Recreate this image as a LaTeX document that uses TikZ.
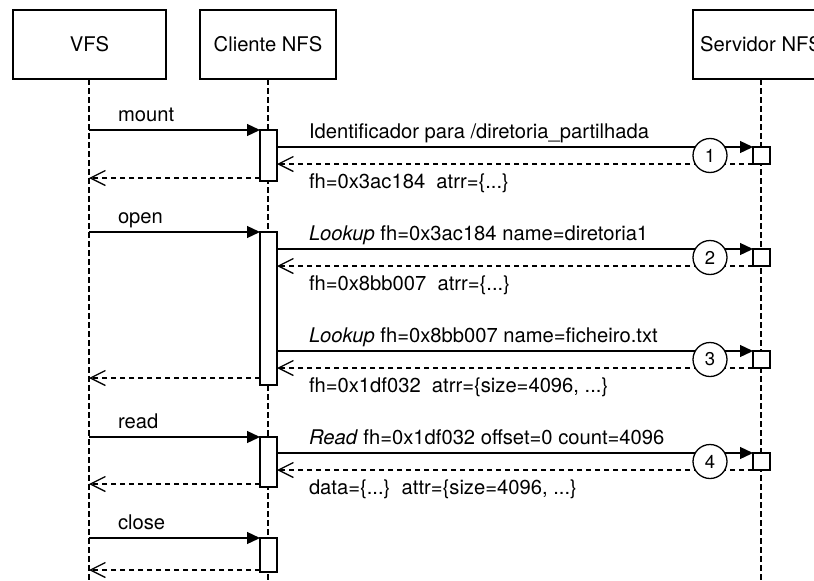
\documentclass[tikz,border=0pt]{standalone}
\usepackage{fontspec}
\setmainfont{TeX Gyre Heros}
\usetikzlibrary{arrows.meta,calc}
\begin{document}
\begin{tikzpicture}[x=1pt,y=-1pt,
  font=\fontsize{20.2}{24}\selectfont,
  every node/.style={inner sep=0pt, outer sep=0pt},
  head/.style={draw, line width=1.3pt, fill=white, minimum height=69pt, anchor=north west},
  life/.style={line width=1.3pt, dash pattern=on 5.5pt off 3.5pt},
  act/.style={draw, line width=1.3pt, fill=white, minimum width=17pt, anchor=north},
  srv/.style={draw, line width=1.3pt, fill=white, minimum width=17pt, minimum height=17pt, anchor=north west},
  call/.style={line width=1.3pt, -{Triangle[length=13pt,width=12pt]}},
  reply/.style={line width=1.3pt, dash pattern=on 5.5pt off 3.5pt,
    -{Straight Barb[length=15pt,width=15pt,line width=1.3pt]}},
  num/.style={circle, draw, line width=1.3pt, fill=white, minimum size=34pt,
    font=\fontsize{18.5}{20}\selectfont},
  lbl/.style={anchor=base west}
]
\useasboundingbox (0,0) rectangle (814,581);
\clip (0,0) rectangle (814,581);
\coordinate (bottom) at (0,581);

% participants
\node[head, minimum width=153pt] (vfs) at (13,10) {VFS};
\node[head, minimum width=136pt] (cli) at (200,10) {Cliente NFS};
\node[head, minimum width=136pt] (srvhead) at (693,10) {Servidor NFS};

% lifelines
\draw[life] (89,79) coordinate (vfsl) -- (vfsl |- bottom);
\draw[life] (cli.south) -- (cli.south |- bottom);
\draw[life] (srvhead.south) -- (srvhead.south |- bottom);

% activations of the client
\node[act, minimum height=51pt]  (a1) at (268.5,130) {};
\node[act, minimum height=153pt] (a2) at (268.5,232) {};
\node[act, minimum height=50pt]  (a3) at (268.5,437) {};
\node[act, minimum height=34pt]  (a4) at (268.5,538) {};

% activations of the server
\node[srv] (s1) at (753,147) {};
\node[srv] (s2) at (753,249) {};
\node[srv] (s3) at (753,351) {};
\node[srv] (s4) at (753,453) {};

% VFS -> client calls
\draw[call] (vfsl |- a1.north) -- (a1.north west);
\draw[call] (vfsl |- a2.north) -- (a2.north west);
\draw[call] (vfsl |- a3.north) -- (a3.north west);
\draw[call] (vfsl |- a4.north) -- (a4.north west);
\node[lbl] (lmount) at (118,121) {mount};
\node[lbl] (lopen)  at (118,223) {open};
\node[lbl] (lread)  at (118,428) {read};
\node[lbl] (lclose) at (118,529) {close};

% client -> VFS replies
\coordinate (r1) at (0,178);
\coordinate (r2) at (0,378);
\coordinate (r3) at (0,484);
\coordinate (r4) at (0,570);
\draw[reply] (a1.west |- r1) -- (vfsl |- r1);
\draw[reply] (a2.west |- r2) -- (vfsl |- r2);
\draw[reply] (a3.west |- r3) -- (vfsl |- r3);
\draw[reply] (a4.west |- r4) -- (vfsl |- r4);

% client -> server requests and replies
\foreach \i/\a in {1/a1,2/a2,3/a2,4/a3}{
  \draw[call] (\a.east |- s\i.north west) -- (s\i.north west);
  \draw[reply] (s\i.south west) -- (\a.east |- s\i.south west);
  \node[num] (n\i) at ($(s\i.west)+(-43,0)$) {\i};
}

\node[lbl] (q1) at (309,138) {Identificador para /diretoria\_partilhada};
\node[lbl] (p1) at (309,188.5) {fh=0x3ac184\ \ atrr=\{...\}};
\node[lbl] (q2) at (309,240) {\textit{Lookup} fh=0x3ac184 name=diretoria1};
\node[lbl] (p2) at (309,290.5) {fh=0x8bb007\ \ atrr=\{...\}};
\node[lbl] (q3) at (309,342) {\textit{Lookup} fh=0x8bb007 name=ficheiro.txt};
\node[lbl] (p3) at (309,392.5) {fh=0x1df032\ \ atrr=\{size=4096, ...\}};
\node[lbl] (q4) at (309,444) {\textit{Read} fh=0x1df032 offset=0 count=4096};
\node[lbl] (p4) at (309,494.5) {data=\{...\}\ \ attr=\{size=4096, ...\}};
\end{tikzpicture}
\end{document}
